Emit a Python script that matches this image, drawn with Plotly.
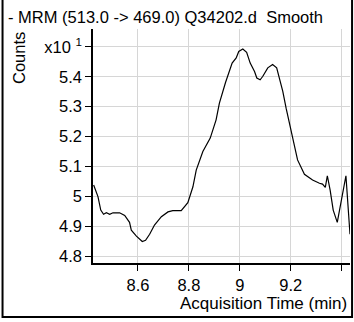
import plotly.graph_objects as go

time_min = [8.426, 8.443, 8.454, 8.465, 8.476, 8.489, 8.502, 8.528, 8.548, 8.567,
            8.574, 8.594, 8.617, 8.630, 8.646, 8.665, 8.692, 8.718, 8.737, 8.770,
            8.796, 8.816, 8.829, 8.855, 8.884, 8.907, 8.920, 8.944, 8.970, 8.986,
            8.996, 9.012, 9.027, 9.041, 9.058, 9.067, 9.080, 9.090, 9.110, 9.129,
            9.145, 9.169, 9.182, 9.195, 9.206, 9.227, 9.254, 9.286, 9.313, 9.325,
            9.336, 9.344, 9.355, 9.367, 9.383, 9.398, 9.417, 9.433]
counts = [5.038, 4.999, 4.954, 4.940, 4.945, 4.940, 4.945, 4.945, 4.936, 4.913,
          4.887, 4.867, 4.849, 4.853, 4.873, 4.904, 4.932, 4.948, 4.952, 4.952,
          4.979, 5.032, 5.088, 5.150, 5.195, 5.256, 5.312, 5.381, 5.446, 5.463,
          5.485, 5.493, 5.482, 5.446, 5.418, 5.396, 5.390, 5.401, 5.430, 5.441,
          5.430, 5.351, 5.295, 5.245, 5.195, 5.122, 5.074, 5.055, 5.044, 5.041,
          5.030, 5.069, 5.021, 4.954, 4.913, 4.988, 5.069, 4.873]

x_ticks = [8.6, 8.8, 9.0, 9.2, 9.4]
x_labels = ["8.6", "8.8", "9", "9.2", ""]
y_ticks = [4.8, 4.9, 5.0, 5.1, 5.2, 5.3, 5.4, 5.5]
y_labels = ["4.8", "4.9", "5", "5.1", "5.2", "5.3", "5.4", "x10 <sup>1</sup>"]

font = "Liberation Sans, Arial, sans-serif"

fig = go.Figure()
fig.add_trace(go.Scatter(x=time_min, y=counts, mode="lines",
                         line=dict(color="black", width=1.2), showlegend=False,
                         cliponaxis=False))

fig.update_layout(
    width=354, height=322,
    margin=dict(l=93, r=4, t=29, b=59),
    paper_bgcolor="white", plot_bgcolor="white",
    font=dict(family=font, size=16, color="black"),
    xaxis=dict(range=[8.4235, 9.433], tickvals=x_ticks, ticktext=x_labels,
               showgrid=True, gridcolor="#d6d6d6", gridwidth=1, zeroline=False,
               showline=True, linecolor="black", linewidth=1.5,
               ticks="outside", ticklen=6, tickcolor="black",
               tickfont=dict(size=16.5)),
    yaxis=dict(range=[4.777, 5.56], tickvals=y_ticks, ticktext=y_labels,
               showgrid=True, gridcolor="#d6d6d6", gridwidth=1, zeroline=False,
               showline=True, linecolor="black", linewidth=1.5,
               ticks="outside", ticklen=6, tickcolor="black",
               tickfont=dict(size=16.5)),
    annotations=[
        dict(text="- MRM (513.0 -> 469.0) Q34202.d  Smooth", xref="paper", yref="paper",
             x=-0.338, y=1.051, xanchor="left", yanchor="middle", showarrow=False,
             font=dict(size=16.5)),
        dict(text="Counts", xref="paper", yref="paper", x=-0.288, y=0.876,
             xanchor="center", yanchor="middle", textangle=-90, showarrow=False,
             font=dict(size=16.5)),
        dict(text="Acquisition Time (min)", xref="paper", yref="paper", x=0.996, y=-0.171,
             xanchor="right", yanchor="middle", showarrow=False, font=dict(size=17)),
    ],
    shapes=[
        dict(type="rect", xref="paper", yref="paper", x0=-0.352, x1=1.008,
             y0=-0.231, y1=1.2, line=dict(color="black", width=2)),
    ],
)

# drop the page's default body margin so the figure sits at the window origin
fig.write_html("out.html", config={"displayModeBar": False},
               post_script="document.body.style.margin='0';")
